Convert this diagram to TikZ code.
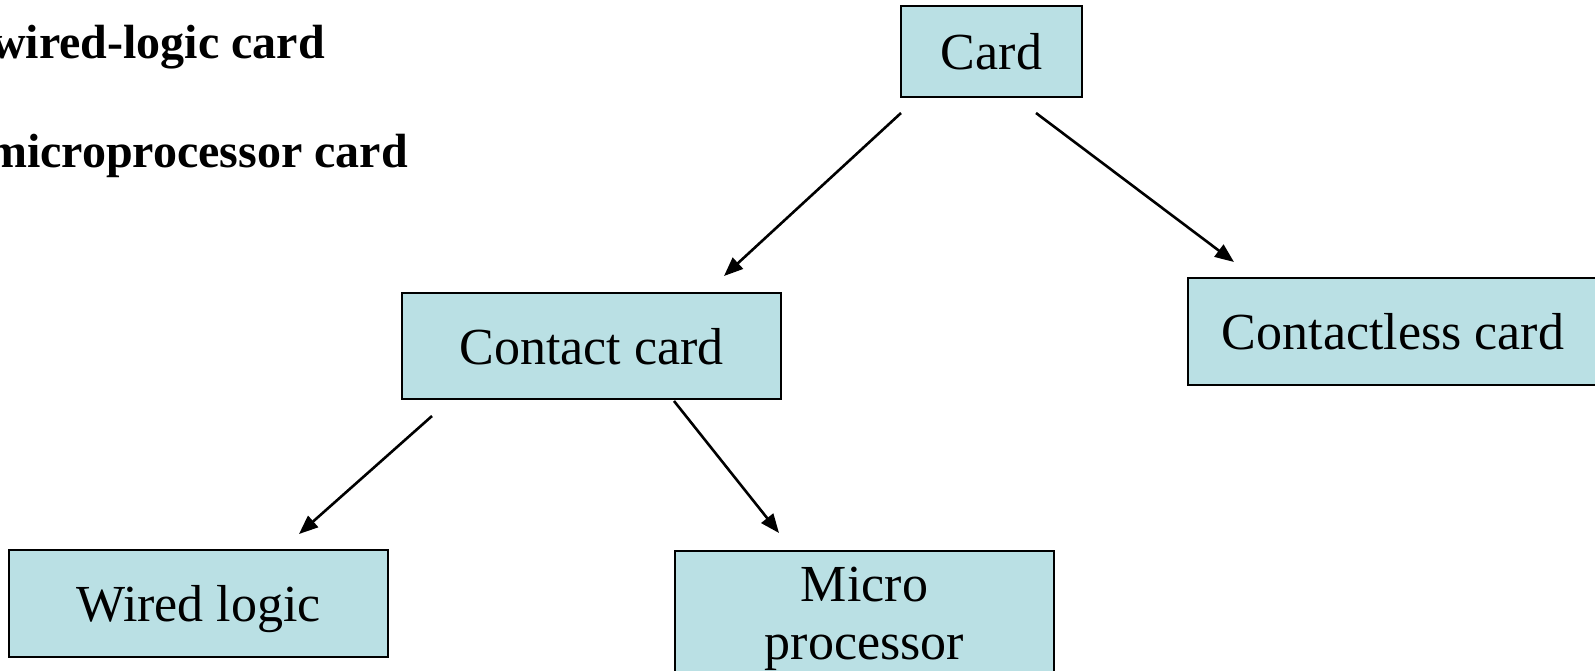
\documentclass[tikz,border=0pt]{standalone}
\usepackage{fontspec}
\setmainfont{Liberation Serif}
\usetikzlibrary{arrows.meta,calc}
\definecolor{boxfill}{RGB}{186,224,228}
\tikzset{
  cardbox/.style={draw=black,line width=2pt,fill=boxfill,inner sep=0pt,
    font=\fontsize{52}{58}\selectfont,text=black},
  onelinebox/.style={cardbox,text height=36pt,text depth=0pt},
  conn/.style={line width=2.6pt,-{Triangle[length=19pt,width=15pt]}},
  bullettext/.style={anchor=base east,inner sep=0pt,font=\fontsize{48}{56}\selectfont\bfseries}
}
\begin{document}
\begin{tikzpicture}[x=1pt,y=-1pt]
\useasboundingbox (0,0) rectangle (1595,670);
\clip (0,0) rectangle (1595,670);
\node[bullettext] (t1) at (325,58) {wired-logic card};
\node[bullettext] (t2) at (408,167) {microprocessor card};
\node[onelinebox,minimum width=181pt,minimum height=91pt] (card) at (991.5,51.5) {Card};
\node[onelinebox,minimum width=379pt,minimum height=106pt] (contact) at (591.5,346) {Contact card};
\node[onelinebox,minimum width=410pt,minimum height=107pt] (contactless) at (1393,331.5) {Contactless card};
\node[onelinebox,minimum width=379pt,minimum height=107pt] (wired) at (198.5,603.5) {Wired logic};
\node[cardbox,minimum width=379pt,anchor=north,inner ysep=16pt,align=center] (micro) at (864.5,550) {Micro\\processor};
\draw[conn] ($(card.south west)+(1,15)$) -- ($(contact.north east)+(-58,-16)$);
\draw[conn] ($(card.south west)+(136,15)$) -- ($(contactless.north west)+(47,-15)$);
\draw[conn] ($(contact.south west)+(31,16)$) -- ($(wired.north east)+(-90,-15)$);
\draw[conn] ($(contact.south west)+(273,1)$) -- ($(micro.north west)+(105,-17)$);
\end{tikzpicture}
\end{document}
